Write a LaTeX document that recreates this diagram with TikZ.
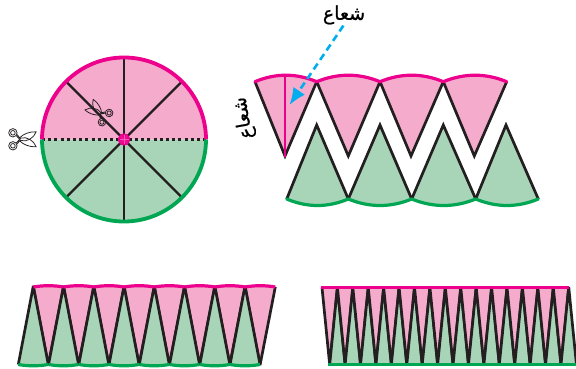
\documentclass[tikz,border=0pt]{standalone}
\usepackage{fontspec}
\usetikzlibrary{arrows.meta}
\newfontfamily\arabicfont[Script=Arabic,FakeBold=0.6]{DejaVu Sans}
\TeXXeTstate=1
\definecolor{pinkfill}{HTML}{F5ABCB}
\definecolor{greenfill}{HTML}{A8D5B8}
\definecolor{magentaline}{HTML}{EC008C}
\definecolor{greenline}{HTML}{00A651}
\definecolor{cyanline}{HTML}{00AEEF}
\definecolor{inkline}{HTML}{231F20}
\tikzset{
  edgeline/.style={draw=inkline,line width=2.7pt,miter limit=3},
  pinkarc/.style={draw=magentaline,line width=3.2pt,line cap=round},
  greenarc/.style={draw=greenline,line width=3.2pt,line cap=round},
  scisline/.style={draw=inkline,line width=0.75pt},
  scissors/.pic={
    \draw[scisline] (-8.8,-6.5) circle[radius=4.2] (-8.8,-6.5) circle[radius=2.3];
    \draw[scisline] (-8.8,6.5) circle[radius=4.2] (-8.8,6.5) circle[radius=2.3];
    \draw[scisline,line join=round] (-5.6,-3.8) -- (-1,1.2) .. controls (5,3) and (12,-1) .. (14.5,-7.5) .. controls (8,-8) and (1,-5) .. (-2,-1.5) -- (-4.6,-4.8);
    \draw[scisline,line join=round] (-5.6,3.8) -- (-1,-1.2) .. controls (5,-3) and (12,1) .. (14.5,7.5) .. controls (8,8) and (1,5) .. (-2,1.5) -- (-4.6,4.8);
  }
}
% x1, x2, tip x, y of corners, y of tip, sag of the arc, fill
\newcommand{\sectorshape}[7]{%
  \fill[#7] (#1,#4) .. controls ({#1+(#2-#1)/3},{#4-1.333*#6}) and ({#1+2*(#2-#1)/3},{#4-1.333*#6}) .. (#2,#4) -- (#3,#5) -- cycle;
  \draw[edgeline] (#1,#4) -- (#3,#5) -- (#2,#4);
}
% x1, x2, y, sag, style
\newcommand{\sectorarc}[5]{%
  \draw[#5] (#1,#3) .. controls ({#1+(#2-#1)/3},{#3-1.333*#4}) and ({#1+2*(#2-#1)/3},{#3-1.333*#4}) .. (#2,#3);
}
\begin{document}
\begin{tikzpicture}[x=1pt,y=-1pt]
\useasboundingbox (0,0) rectangle (576,369);
\clip (0,0) rectangle (576,369);
% circle
\coordinate (c) at (124,139.5);
\fill[pinkfill] (42,139.5) arc[start angle=180,end angle=360,radius=82] -- cycle;
\fill[greenfill] (42,139.5) arc[start angle=180,end angle=0,radius=82] -- cycle;
\foreach \a in {45,90,135,225,270,315}
  \draw[draw=inkline,line width=2.4pt] (c) -- ++({81*cos(\a)},{81*sin(\a)});
\draw[draw=inkline,line width=2.5pt,dash pattern=on 3pt off 3.2pt] (42,139.5) -- (206,139.5);
\draw[pinkarc,line width=3.8pt,line cap=butt] (42,139.5) arc[start angle=180,end angle=360,radius=82];
\draw[greenarc,line width=3.8pt,line cap=butt] (42,139.5) arc[start angle=180,end angle=0,radius=82];
\fill[magentaline] (c) circle[radius=6];
\foreach \a in {0,45,...,315}
  \draw[magentaline!65!white,line width=0.2pt] (c) -- ++({4.5*cos(\a)},{4.5*sin(\a)});
\pic[rotate=0] at (21.7,139.3) {scissors};
\pic[rotate=142,scale=0.9] at (99.3,112.7) {scissors};
% separated sectors
\foreach \x/\y/\t in {255/316.7/285,316.7/380/348.3,380/443.3/411,443.3/506.7/474.3}
  \sectorshape{\x}{\y}{\t}{81.7}{156}{6.5}{pinkfill};
\foreach \x/\y/\t in {286.7/348.3/316.7,348.3/411.7/380,411.7/475.7/443.3,475.7/538.3/506}
  \sectorshape{\x}{\y}{\t}{199}{125}{-6.5}{greenfill};
\foreach \x/\y in {255/316.7,316.7/380,380/443.3,443.3/506.7}
  \sectorarc{\x}{\y}{81.7}{6.5}{pinkarc};
\foreach \x/\y in {286.7/348.3,348.3/411.7,411.7/475.7,475.7/538.3}
  \sectorarc{\x}{\y}{199}{-6.5}{greenarc};
\draw[draw=magentaline,line width=2.7pt] (285,75.5) -- (285,157);
% eight and eight
\foreach \i in {0,...,7}{
  \pgfmathsetmacro{\xa}{33.3+30.25*\i}
  \pgfmathsetmacro{\xb}{\xa+30.25}
  \pgfmathsetmacro{\xt}{\xa+15}
  \pgfmathsetmacro{\xl}{\xa-15}
  \sectorshape{\xa}{\xb}{\xt}{287}{365}{1.3}{pinkfill};
  \sectorshape{\xl}{\xt}{\xa}{364.5}{286}{-1.3}{greenfill};
}
\foreach \i in {0,...,7}{
  \pgfmathsetmacro{\xa}{33.3+30.25*\i}
  \pgfmathsetmacro{\xb}{\xa+30.25}
  \pgfmathsetmacro{\xt}{\xa+15}
  \pgfmathsetmacro{\xl}{\xa-15}
  \sectorarc{\xa}{\xb}{287}{1.3}{pinkarc,line cap=butt};
  \sectorarc{\xl}{\xt}{364.5}{-1.3}{greenarc,line cap=butt};
}
% sixteen and sixteen
\foreach \i in {0,...,15}{
  \pgfmathsetmacro{\xa}{322+15.42*\i}
  \pgfmathsetmacro{\xb}{\xa+15.42}
  \pgfmathsetmacro{\xt}{\xa+7.71}
  \pgfmathsetmacro{\xr}{\xt+15.42}
  \sectorshape{\xa}{\xb}{\xt}{287.5}{365}{0}{pinkfill};
  \sectorshape{\xt}{\xr}{\xb}{364.5}{287}{0}{greenfill};
}
\draw[pinkarc,line cap=butt] (320.5,287.7) -- (568.8,287.7);
\draw[greenarc,line cap=butt] (328,364.7) -- (576,364.7);
% labels
\node[inner sep=0pt,font=\arabicfont\fontsize{19}{19}\selectfont] (radiuslabel) at (344,15) {\beginR شعاع\endR};
\node[inner sep=0pt,rotate=100,font=\arabicfont\fontsize{19}{19}\selectfont] (sidelabel) at (244,118) {\beginR شعاع\endR};
\coordinate (arrowtip) at (289.5,105);
\draw[draw=cyanline,line width=2.6pt,dash pattern=on 7pt off 4.5pt,shorten <=1pt,-{Latex[length=17pt,width=14pt]}] (radiuslabel.south) -- (arrowtip);
\end{tikzpicture}
\end{document}
